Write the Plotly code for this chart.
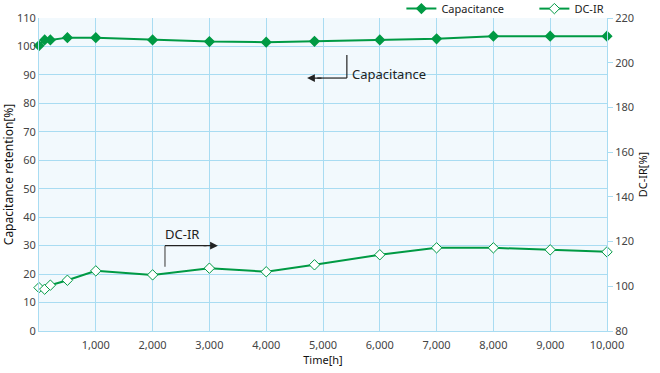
import plotly.graph_objects as go

time_h = [0, 100, 200, 500, 1000, 2000, 3000, 4000, 4850, 6000, 7000, 8000, 9000, 10000]
capacitance = [100.3, 102.3, 102.3, 103.1, 103.1, 102.3, 101.7, 101.5, 101.8, 102.3, 102.7, 103.6, 103.6, 103.6]
dcir = [99.4, 98.7, 100.5, 102.7, 106.9, 105.1, 108.1, 106.5, 109.6, 114.1, 117.2, 117.2, 116.3, 115.4]
x_ticks = [1000, 2000, 3000, 4000, 5000, 6000, 7000, 8000, 9000, 10000]
x_tick_labels = ["1,000", "2,000", "3,000", "4,000", "5,000", "6,000", "7,000", "8,000", "9,000", "10,000"]
left_ticks = list(range(0, 111, 10))
right_ticks = list(range(80, 221, 20))

GREEN = "#009a44"
GRID = "#a9dcf2"
FONT = "Noto Sans, Arial, sans-serif"

fig = go.Figure()
fig.add_trace(go.Scatter(
    x=time_h, y=capacitance, name="Capacitance", mode="lines+markers", cliponaxis=False,
    line=dict(color=GREEN, width=2),
    marker=dict(symbol="diamond", size=7, color=GREEN, line=dict(color=GREEN, width=1.5)),
    yaxis="y"))
fig.add_trace(go.Scatter(
    x=time_h, y=dcir, name="DC-IR", mode="lines+markers", cliponaxis=False,
    line=dict(color=GREEN, width=2),
    marker=dict(symbol="diamond", size=8, color="white", line=dict(color=GREEN, width=1)),
    yaxis="y2"))

# Callout for Capacitance
fig.add_shape(type="line", xref="x", yref="y", x0=5420, x1=5420, y0=97.0, y1=88.9,
              line=dict(color="#222", width=1.2))
fig.add_shape(type="line", xref="x", yref="y", x0=5420, x1=4900, y0=88.9, y1=88.9,
              line=dict(color="#222", width=1.2))
fig.add_annotation(x=4720, y=88.9, ax=5000, ay=88.9, axref="x", ayref="y", xref="x", yref="y",
                   text="", showarrow=True, arrowhead=2, arrowsize=1.3, arrowwidth=1.2, arrowcolor="#222")
fig.add_annotation(x=5480, y=90.3, xref="x", yref="y", text="Capacitance", showarrow=False,
                   xanchor="left", font=dict(family=FONT, size=13, color="#222"))

# Callout for DC-IR
fig.add_shape(type="line", xref="x", yref="y", x0=2218, x1=2218, y0=22.6, y1=30,
              line=dict(color="#555", width=1.2))
fig.add_shape(type="line", xref="x", yref="y", x0=2218, x1=2950, y0=30, y1=30,
              line=dict(color="#222", width=1.2))
fig.add_annotation(x=3150, y=30, ax=2870, ay=30, axref="x", ayref="y", xref="x", yref="y",
                   text="", showarrow=True, arrowhead=2, arrowsize=1.3, arrowwidth=1.2, arrowcolor="#222")
fig.add_annotation(x=2190, y=34.2, xref="x", yref="y", text="DC-IR", showarrow=False,
                   xanchor="left", font=dict(family=FONT, size=13, color="#222"))

fig.update_layout(
    width=660, height=373,
    margin=dict(l=39, r=53, t=18, b=42, autoexpand=False),
    paper_bgcolor="white", plot_bgcolor="#f2f9fd",
    font=dict(family=FONT, size=11, color="#444"),
    showlegend=True,
    legend=dict(orientation="h", x=0.638, xanchor="left",
                y=1.03, yanchor="middle", entrywidth=88, entrywidthmode="pixels",
                font=dict(family=FONT, size=11, color="#222"), bgcolor="rgba(0,0,0,0)",
                traceorder="normal"),
    xaxis=dict(range=[0, 10000], tickvals=x_ticks, ticktext=x_tick_labels,
               showgrid=True, gridcolor=GRID, gridwidth=1, zeroline=False, automargin=False,
               showline=True, linecolor=GRID, linewidth=1, ticks="", ticklabelstandoff=4,
               title=dict(text="Time[h]", font=dict(family=FONT, size=11, color="#111"), standoff=2),
               tickfont=dict(size=11, color="#444")),
    yaxis=dict(range=[0, 110], tickvals=left_ticks, showgrid=True, gridcolor=GRID, gridwidth=1,
               zeroline=False, showline=True, linecolor=GRID, ticks="", automargin=False,
               title=dict(text="Capacitance retention[%]", font=dict(family=FONT, size=12, color="#111"), standoff=3),
               tickfont=dict(size=11, color="#444")),
    yaxis2=dict(range=[80, 220], tickvals=right_ticks, overlaying="y", side="right",
                showgrid=False, zeroline=False, showline=True, linecolor=GRID, automargin=False,
                ticks="outside", ticklen=5, tickcolor=GRID,
                title=dict(text="DC-IR[%]", font=dict(family=FONT, size=11, color="#111"), standoff=6),
                tickfont=dict(size=11, color="#444")),
)

fig.write_html("out.html", config={"displayModeBar": False},
               post_script="document.body.style.margin='0';")
